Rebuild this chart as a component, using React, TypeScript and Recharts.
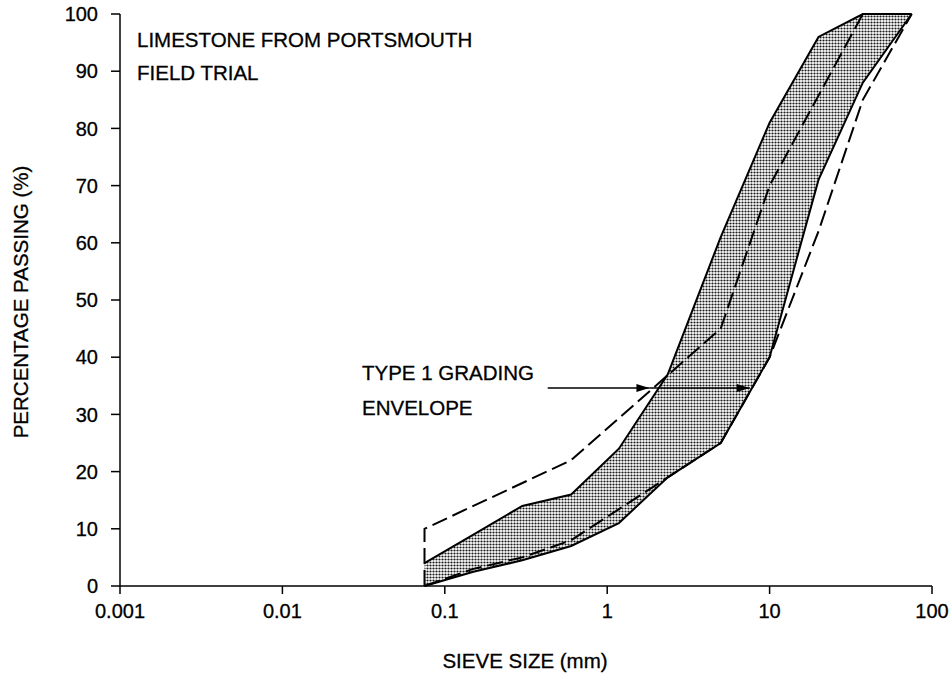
import React from "react";
import { ComposedChart, XAxis, YAxis, Area, Line, ReferenceLine, Customized } from "recharts";

// Type 1 grading envelope (shaded band)
const sieveSizes = [0.075, 0.15, 0.3, 0.6, 1.18, 2.36, 5, 10, 20, 37.5, 75];
const envelopeLower = [0, 2.5, 4.5, 7, 11, 19, 25, 40, 71, 88, 100];
const envelopeUpper = [4, 9, 14, 16, 24, 37, 61, 81, 96, 100, 100];

// limestone field trial gradings (dashed)
const trialASizes = [0.075, 0.075, 0.6, 5, 10, 37.5];
const trialAPassing = [0, 10, 22, 45, 70, 100];
const trialBSizes = [0.075, 0.15, 0.3, 0.6, 5, 10, 20, 37.5, 75];
const trialBPassing = [0, 3, 5, 8, 25, 40, 62, 85, 100];

const xTicks = [0.001, 0.01, 0.1, 1, 10, 100];
const yTicks = [0, 10, 20, 30, 40, 50, 60, 70, 80, 90, 100];

// arrow annotation
const arrowY = 34.6;
const arrowStart = 0.43;
const arrowMid = 1.82;
const arrowEnd = 7.55;

const bandData = sieveSizes.map((size, i) => ({ size, range: [envelopeLower[i], envelopeUpper[i]] }));
const trialA = trialASizes.map((size, i) => ({ size, pass: trialAPassing[i] }));
const trialB = trialBSizes.map((size, i) => ({ size, pass: trialBPassing[i] }));

const FONT = "'Liberation Sans', Arial, Helvetica, sans-serif";
const tickStyle = { fill: "#000", fontSize: 20, fontFamily: FONT, stroke: "#000", strokeWidth: 0.3 };

const Arrow = (props: any) => {
  const { x1, y1, x2, y2 } = props;
  return (
    <g>
      <line x1={x1} y1={y1} x2={x2} y2={y2} stroke="#000" strokeWidth={1.5} />
      <polygon points={`${x2},${y2} ${x2 - 13},${y2 - 4} ${x2 - 13},${y2 + 4}`} fill="#000" />
    </g>
  );
};

const Annotations = () => (
  <g fontFamily={FONT} fill="#000" stroke="#000" strokeWidth={0.3} fontSize={20.5}>
    <defs>
      <pattern id="stipple" width="3" height="3" patternUnits="userSpaceOnUse">
        <rect width="3" height="3" fill="#fff" stroke="none" />
        <circle cx="1.5" cy="1.5" r="1.1" fill="#1a1a1a" stroke="none" />
      </pattern>
    </defs>
    <text x={137} y={47}>LIMESTONE FROM PORTSMOUTH</text>
    <text x={137} y={80}>FIELD TRIAL</text>
    <text x={362} y={380}>TYPE 1 GRADING</text>
    <text x={362} y={415}>ENVELOPE</text>
    <text x={525} y={668} textAnchor="middle">SIEVE SIZE (mm)</text>
    <text x={28} y={302} textAnchor="middle" transform="rotate(-90 28 302)">PERCENTAGE PASSING (%)</text>
  </g>
);

export default function App() {
  return (
    <div style={{ position: "absolute", left: 0, top: 0 }}>
      <ComposedChart width={951} height={677} margin={{ top: 14, right: 19, left: 50, bottom: 51 }}>
        <Customized component={Annotations} />
        <XAxis
          dataKey="size"
          type="number"
          scale="log"
          domain={[0.001, 100]}
          ticks={xTicks}
          tickFormatter={(v: number) => String(v)}
          allowDataOverflow
          height={40}
          tick={tickStyle}
          tickSize={8}
          tickMargin={10}
          axisLine={{ stroke: "#000", strokeWidth: 1.5 }}
          tickLine={{ stroke: "#000", strokeWidth: 1.5 }}
        />
        <XAxis
          xAxisId="top"
          orientation="top"
          type="number"
          scale="log"
          domain={[0.001, 100]}
          allowDataOverflow
          height={0}
          tick={false}
          tickLine={false}
          axisLine={{ stroke: "#000", strokeWidth: 1.5 }}
        />
        <YAxis
          type="number"
          domain={[0, 100]}
          ticks={yTicks}
          width={70}
          tick={tickStyle}
          tickSize={9}
          tickMargin={13}
          axisLine={{ stroke: "#000", strokeWidth: 1.5 }}
          tickLine={{ stroke: "#000", strokeWidth: 1.5 }}
        />
        <YAxis
          yAxisId="right"
          orientation="right"
          domain={[0, 100]}
          width={0}
          tick={false}
          tickLine={false}
          axisLine={{ stroke: "#000", strokeWidth: 1.5 }}
        />
        <Area
          data={bandData}
          dataKey="range"
          type="linear"
          stroke="#000"
          strokeWidth={2}
          fill="url(#stipple)"
          fillOpacity={1}
          dot={false}
          activeDot={false}
          isAnimationActive={false}
        />
        <Line
          data={trialA}
          dataKey="pass"
          type="linear"
          stroke="#000"
          strokeWidth={2}
          strokeDasharray="16 6"
          dot={false}
          activeDot={false}
          isAnimationActive={false}
        />
        <Line
          data={trialB}
          dataKey="pass"
          type="linear"
          stroke="#000"
          strokeWidth={2}
          strokeDasharray="16 6"
          dot={false}
          activeDot={false}
          isAnimationActive={false}
        />
        <ReferenceLine segment={[{ x: arrowStart, y: arrowY }, { x: arrowMid, y: arrowY }]} shape={Arrow} />
        <ReferenceLine segment={[{ x: arrowMid, y: arrowY }, { x: arrowEnd, y: arrowY }]} shape={Arrow} />
      </ComposedChart>
    </div>
  );
}
